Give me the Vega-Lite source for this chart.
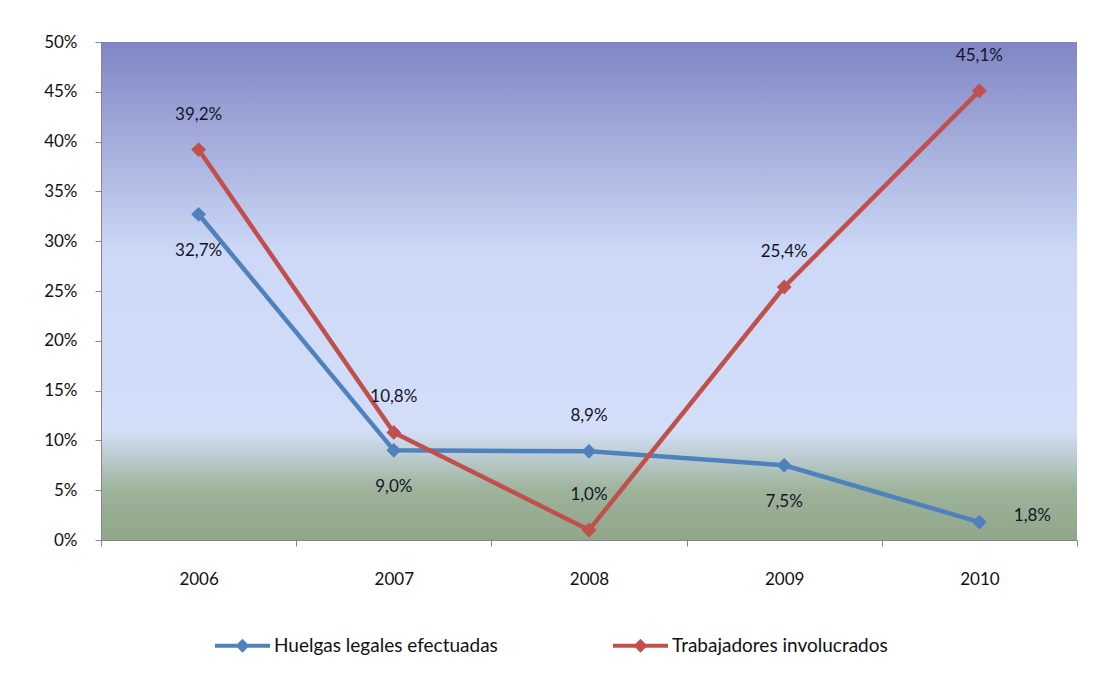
{
  "$schema": "https://vega.github.io/schema/vega-lite/v6.json",
  "width": 976,
  "height": 498,
  "autosize": {"type": "none"},
  "padding": {"left": 101, "top": 42, "right": 18, "bottom": 135},
  "background": "white",
  "config": {
    "locale": {"number": {"decimal": ",", "thousands": ".", "grouping": [3], "currency": ["", " €"]}},
    "font": "Lato",
    "view": {
      "stroke": null,
      "fill": {
        "gradient": "linear", "x1": 0, "y1": 0, "x2": 0, "y2": 1,
        "stops": [
          {"offset": 0, "color": "#7f86c3"},
          {"offset": 0.42, "color": "#ccd8f6"},
          {"offset": 0.78, "color": "#d3dff9"},
          {"offset": 0.9, "color": "#9db39a"},
          {"offset": 1, "color": "#91a78b"}
        ]
      }
    },
    "axis": {"domainColor": "#868686", "tickColor": "#868686", "labelColor": "#111111", "labelFontSize": 17, "grid": false, "title": null}
  },
  "data": {
    "values": [
      {"year": "2006", "serie": "Huelgas legales efectuadas", "value": 0.327},
      {"year": "2007", "serie": "Huelgas legales efectuadas", "value": 0.090},
      {"year": "2008", "serie": "Huelgas legales efectuadas", "value": 0.089},
      {"year": "2009", "serie": "Huelgas legales efectuadas", "value": 0.075},
      {"year": "2010", "serie": "Huelgas legales efectuadas", "value": 0.018},
      {"year": "2006", "serie": "Trabajadores involucrados", "value": 0.392},
      {"year": "2007", "serie": "Trabajadores involucrados", "value": 0.108},
      {"year": "2008", "serie": "Trabajadores involucrados", "value": 0.010},
      {"year": "2009", "serie": "Trabajadores involucrados", "value": 0.254},
      {"year": "2010", "serie": "Trabajadores involucrados", "value": 0.451}
    ]
  },
  "encoding": {
    "x": {
      "field": "year", "type": "ordinal",
      "scale": {"type": "band", "paddingInner": 0, "paddingOuter": 0},
      "axis": {"labelAngle": 0, "tickBand": "extent", "tickSize": 6, "labelPadding": 25, "domain": true}
    },
    "y": {
      "field": "value", "type": "quantitative",
      "scale": {"domain": [0, 0.5], "nice": false},
      "axis": {"format": ".0%", "values": [0, 0.05, 0.1, 0.15, 0.2, 0.25, 0.3, 0.35, 0.4, 0.45, 0.5], "tickSize": 6, "labelPadding": 18, "domain": true}
    }
  },
  "layer": [
    {
      "mark": {"type": "line", "strokeWidth": 4.5},
      "encoding": {
        "color": {
          "field": "serie", "type": "nominal",
          "scale": {"domain": ["Huelgas legales efectuadas", "Trabajadores involucrados"], "range": ["#4f81bd", "#c0504d"]},
          "legend": {
            "title": null, "orient": "none", "direction": "horizontal",
            "legendX": 112, "legendY": 574,
            "symbolType": "M-1,0L1,0M0,-0.15L0.15,0L0,0.15L-0.15,0Z",
            "symbolSize": 3025, "symbolStrokeWidth": 4,
            "labelFontSize": 19, "labelColor": "#111111", "labelOffset": 2, "labelLimit": 0,
            "columnPadding": 107
          }
        }
      }
    },
    {
      "mark": {"type": "point", "shape": "diamond", "filled": true, "size": 220, "opacity": 1},
      "encoding": {
        "color": {"field": "serie", "type": "nominal", "legend": null}
      }
    },
    {
      "transform": [{"filter": "datum.serie == 'Trabajadores involucrados' || datum.year == '2008'"}],
      "mark": {"type": "text", "dy": -35, "fontSize": 17, "color": "#141428"},
      "encoding": {"text": {"field": "value", "type": "quantitative", "format": ".1%"}}
    },
    {
      "transform": [{"filter": "datum.serie == 'Huelgas legales efectuadas' && datum.year != '2008' && datum.year != '2010'"}],
      "mark": {"type": "text", "dy": 37, "fontSize": 17, "color": "#141428"},
      "encoding": {"text": {"field": "value", "type": "quantitative", "format": ".1%"}}
    },
    {
      "transform": [{"filter": "datum.serie == 'Huelgas legales efectuadas' && datum.year == '2010'"}],
      "mark": {"type": "text", "dx": 53, "dy": -6, "fontSize": 17, "color": "#141428"},
      "encoding": {"text": {"field": "value", "type": "quantitative", "format": ".1%"}}
    }
  ]
}
